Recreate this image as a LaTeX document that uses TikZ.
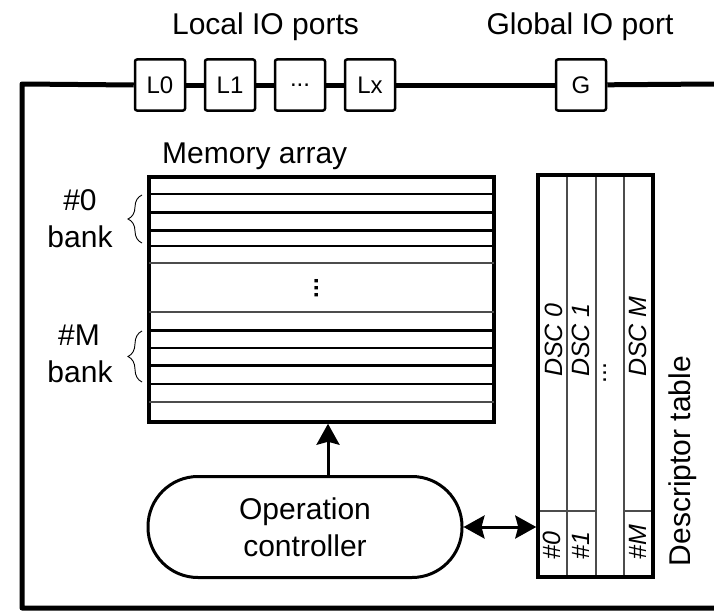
\documentclass[tikz,border=0pt]{standalone}
\usepackage{fontspec}
\setmainfont{Liberation Sans}
\usetikzlibrary{arrows.meta,decorations.pathreplacing}

\begin{document}
\begin{tikzpicture}[x=1pt,y=-1pt,
  port/.style={draw, line width=2.5pt, rounded corners=2pt, fill=white,
    minimum width=50pt, minimum height=51pt, inner sep=0pt,
    font=\fontsize{24}{28}\selectfont},
  bus/.style={line width=5pt, line join=round},
  big/.style={font=\fontsize{30}{37}\selectfont, inner sep=0pt},
  celltext/.style={font=\fontsize{25}{30}\selectfont\itshape, rotate=90,
    anchor=base west, inner sep=0pt},
  rowline/.style={line width=#1},
  bankbrace/.style={decorate, decoration={brace, amplitude=14pt}, line width=0.9pt},
  link/.style={line width=3pt, >={Stealth[length=21pt, width=23pt, inset=3pt]}}
]
\useasboundingbox (0,0) rectangle (714,610);

% port labels
\node[big, anchor=base] (loclab) at (265.5,35) {Local IO ports};
\node[big, anchor=base] (globlab) at (580,35) {Global IO port};

% frame corners
\coordinate (tl) at (22,84);
\coordinate (bl) at (22,608);
\coordinate (br) at (714,608);
\coordinate (tr) at (714,84);

% ports
\node[port] (L0) at (160,85) {L0};
\node[port] (L1) at (230,85) {L1};
\node[port] (Ld) at (300,85) {...};
\node[port] (Lx) at (370,85) {Lx};
\node[port] (G)  at (581,85) {G};

% bus / frame
\draw[bus] (br) -- (bl) -- (tl) -- (L0.west);
\draw[bus] (L0) -- (L1);
\draw[bus] (L1) -- (Ld);
\draw[bus] (Ld) -- (Lx);
\draw[bus] (Lx) -- (G);
\draw[bus] (G) -- (tr);

% memory array
\node[big, anchor=base west] (memlab) at (162,163) {Memory array};
\node[draw, line width=3.5pt, minimum width=345pt, minimum height=245pt, inner sep=0pt]
  (mem) at (321.5,299.5) {};
\foreach \y/\w in {194/2pt, 212/3pt, 230/3pt, 246/2pt, 330/3pt, 348/2.5pt, 365/3pt, 384/2pt}
  \draw[rowline=\w] (149,\y) -- (494,\y);
\foreach \y in {263, 312, 402}
  \draw[rowline=1.2pt, black!70] (149,\y) -- (494,\y);
\node[font=\fontsize{24}{28}\bfseries, rotate=90, anchor=base, inner sep=0pt]
  (memdots) at (318,288) {...};

% bank labels and braces
\node[big, anchor=base] (b0a) at (80,210) {\#0};
\node[big, anchor=base] (b0b) at (80,247) {bank};
\node[big, anchor=base] (bma) at (79,345) {\#M};
\node[big, anchor=base] (bmb) at (80,382) {bank};
\draw[bankbrace] (142,243) -- (142,195);
\draw[bankbrace] (142,382) -- (142,331);

% descriptor table
\node[draw, line width=3.5pt, minimum width=115pt, minimum height=402pt, inner sep=0pt]
  (tab) at (595.5,376) {};
\foreach \x in {567, 596, 624}
  \draw[line width=1.2pt, black!70] (\x,177) -- (\x,575);
\draw[line width=1.2pt, black!70] (540,511) -- (596,511);
\draw[line width=1.2pt, black!70] (624,511) -- (651,511);
\node[celltext] (d0) at (562,377) {DSC 0};
\node[celltext] (d1) at (589,377) {DSC 1};
\node[celltext] (dm) at (646,377) {DSC M};
\node[font=\fontsize{25}{30}\selectfont, rotate=90, anchor=base west, inner sep=0pt]
  (ddots) at (606,384) {...};
\node[celltext] (h0) at (560,560) {\#0};
\node[celltext] (h1) at (589,560) {\#1};
\node[celltext] (hm) at (646,560) {\#M};
\node[big, rotate=90, anchor=base] (tablab) at (690,461) {Descriptor table};

% operation controller
\node[draw, line width=3pt, rounded corners=50pt, minimum width=314pt,
  minimum height=101pt, align=center, font=\fontsize{30}{37}\selectfont]
  (ctrl) at (305,527) {Operation\\controller};

% connectors
\coordinate (ax) at (328,0);
\draw[link, ->] (ctrl.north -| ax) -- (mem.south -| ax);
\draw[link, <->] (ctrl.east) -- (tab.west |- ctrl.east);
\end{tikzpicture}
\end{document}
